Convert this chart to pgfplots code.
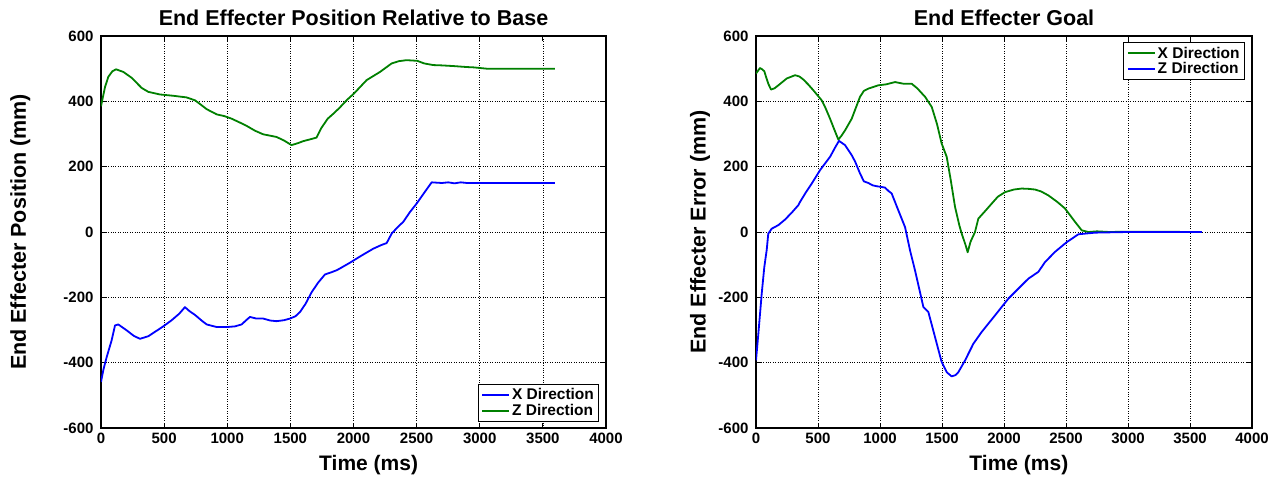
\documentclass[border=0pt]{standalone}
\usepackage{fontspec}
\setmainfont{Liberation Sans}
\usepackage{pgfplots}
\pgfplotsset{compat=1.18}
\definecolor{mblue}{RGB}{0,0,255}
\definecolor{mgreen}{RGB}{0,128,0}

\pgfplotsset{
  matfig/.style={
    scale only axis, height=392pt,
    xmin=0, xmax=4000, ymin=-600, ymax=600,
    xtick={0,500,...,4000}, ytick={-600,-400,...,600},
    grid=major, grid style={dotted, black, line width=0.6pt},
    axis line style={line width=1.2pt},
    tick style={black, line width=0.8pt},
    major tick length=5pt, tick align=inside,
    /pgf/number format/assume math mode=true,
    /pgf/number format/1000 sep={},
    ticklabel style={font=\fontsize{15}{17}\selectfont\bfseries},
    yticklabel style={xshift=-4pt},
    xticklabel style={yshift=-1pt},
    every axis title/.style={font=\fontsize{21.5}{25}\selectfont\bfseries,
      at={(axis description cs:0.5,1)}, anchor=center, yshift=18pt},
    every axis x label/.style={font=\fontsize{21}{25}\selectfont\bfseries,
      at={(axis description cs:0.53,0)}, anchor=center, yshift=-37pt},
    legend style={font=\fontsize{15.5}{18}\selectfont\bfseries,
      draw=black, line width=1pt, inner xsep=3pt, inner ysep=2pt,
      row sep=-1pt, cells={anchor=west}},
    legend image code/.code={\draw[#1] (0pt,0pt) -- (27pt,0pt);},
    every axis plot/.append style={line width=1.8pt, line join=round},
  },
  ylab/.style={every axis y label/.style={font=\fontsize{21.5}{25}\selectfont\bfseries,
      at={(axis description cs:#1,0.5)}, rotate=90, anchor=center}},
}

\begin{document}
\begin{tikzpicture}
\useasboundingbox (0,0) rectangle (1282pt,478pt);

% left: position relative to base
\begin{axis}[
  matfig, width=505pt, ylab=-0.16,
  at={(101pt,50pt)}, anchor=south west,
  title={End Effecter Position Relative to Base},
  xlabel={Time (ms)},
  ylabel={End Effecter Position (mm)},
  legend style={at={(0.987,0.016)}, anchor=south east},
]
\addplot[mblue] coordinates {
(0,-459)(20,-420)(45,-383)(84,-332)(111,-286)(137,-283)(203,-301)(260,-318)
(309,-327)(375,-319)(430,-305)(493,-289)(560,-270)(620,-250)(665,-230)(700,-242)
(745,-254)(800,-272)(837,-283)(917,-291)(996,-291)(1060,-289)(1114,-283)(1150,-270)
(1180,-260)(1230,-265)(1285,-265)(1340,-271)(1390,-273)(1450,-270)(1497,-265)
(1540,-258)(1576,-245)(1620,-220)(1669,-184)(1720,-155)(1774,-130)(1820,-124)
(1867,-117)(1900,-110)(1972,-94)(2060,-73)(2157,-51)(2220,-40)(2262,-34)(2275,-25)
(2302,-5)(2350,15)(2394,31)(2447,61)(2500,87)(2560,120)(2619,152)(2700,150)
(2750,152)(2800,149)(2850,152)(2900,150)(3000,150)(3596,150)
};
\addplot[mgreen] coordinates {
(0,385)(32,444)(58,475)(90,492)(119,498)(177,490)(243,472)(322,441)(375,429)
(467,421)(573,417)(678,412)(745,403)(790,390)(837,376)(917,360)(975,355)(1034,347)
(1100,335)(1153,325)(1220,310)(1285,299)(1390,291)(1450,280)(1509,266)(1560,272)
(1601,278)(1660,284)(1707,289)(1743,317)(1796,347)(1840,362)(1889,380)(1950,405)
(2004,424)(2104,465)(2210,490)(2302,516)(2360,523)(2420,526)(2505,524)(2560,516)
(2632,511)(2700,510)(2790,508)(2896,505)(2950,504)(3054,500)(3596,500)
};
\legend{X Direction, Z Direction}
\end{axis}

% right: goal error
\begin{axis}[
  matfig, width=496pt, ylab=-0.113,
  at={(756pt,50pt)}, anchor=south west,
  title={End Effecter Goal},
  xlabel={Time (ms)},
  ylabel={End Effecter Error (mm)},
  legend style={at={(0.986,0.984)}, anchor=north east},
]
\addplot[mgreen] coordinates {
(0,485)(32,502)(50,498)(67,492)(85,470)(99,454)(121,436)(150,440)(180,449)(248,470)
(315,480)(350,476)(381,467)(420,452)(462,434)(530,403)(560,380)(597,347)(630,315)
(664,283)(690,295)(718,311)(772,347)(800,375)(839,414)(870,432)(906,439)(986,449)
(1050,452)(1121,459)(1188,454)(1255,454)(1300,440)(1363,414)(1417,383)(1460,330)
(1497,271)(1538,230)(1570,160)(1605,77)(1640,20)(1659,-5)(1690,-40)(1707,-62)
(1730,-30)(1766,0)(1793,41)(1850,65)(1901,87)(1950,108)(2008,122)(2080,130)
(2143,133)(2200,132)(2250,130)(2300,124)(2358,112)(2430,92)(2492,72)(2573,31)
(2627,5)(2681,0)(2750,2)(2850,0)(3000,1)(3595,0)
};
\addplot[mblue] coordinates {
(0,-393)(19,-311)(46,-189)(67,-107)(86,-56)(99,-5)(126,10)(180,21)(234,38)(290,60)
(341,82)(355,92)(400,120)(449,148)(516,189)(597,230)(640,260)(669,279)(718,266)
(772,235)(800,215)(839,179)(870,155)(906,150)(940,143)(974,140)(1010,138)(1040,136)
(1070,125)(1094,118)(1148,66)(1202,15)(1242,-56)(1282,-117)(1320,-180)(1350,-230)
(1390,-245)(1444,-322)(1497,-398)(1540,-430)(1578,-442)(1610,-438)(1632,-429)
(1686,-393)(1753,-342)(1820,-306)(1928,-255)(2035,-204)(2196,-143)(2277,-122)
(2331,-92)(2411,-61)(2506,-31)(2600,-7)(2734,-2)(3000,0)(3595,0)
};
\legend{X Direction, Z Direction}
\end{axis}
\end{tikzpicture}
\end{document}
